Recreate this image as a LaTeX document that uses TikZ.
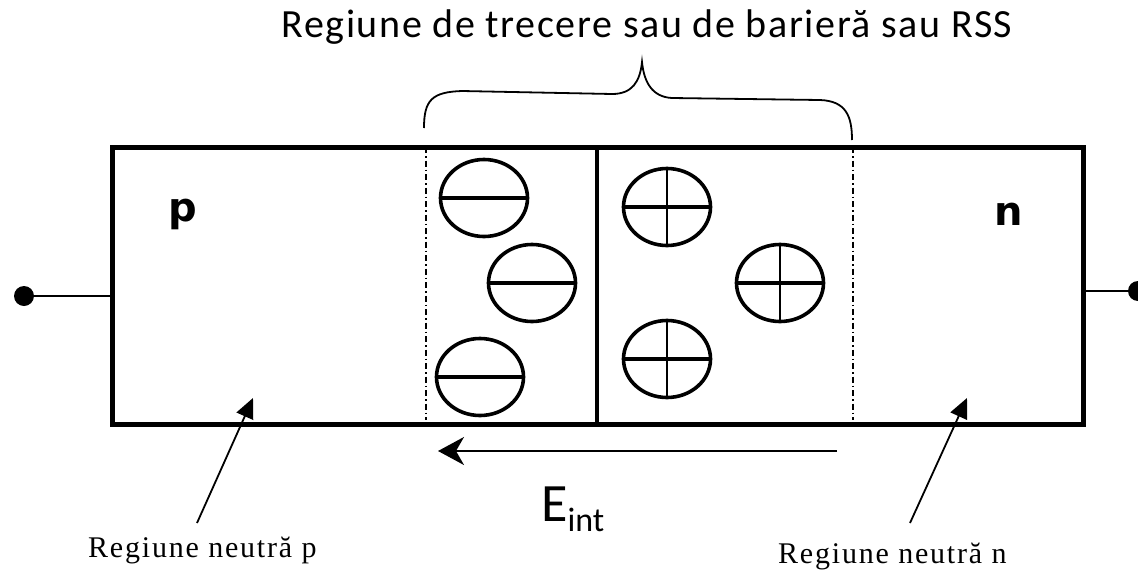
\documentclass[tikz,border=0pt]{standalone}
\usepackage{fontspec}
\setmainfont{Liberation Serif}
\newfontfamily\calib{Carlito}
\newfontfamily\calibsp[LetterSpace=4]{Carlito}
\newfontfamily\serifsp[LetterSpace=6]{Liberation Serif}
\newfontfamily\verd{DejaVu Sans}
\usetikzlibrary{shapes.geometric,arrows.meta}
\begin{document}
\begin{tikzpicture}[x=1pt,y=-1pt,
  ion/.style={draw, ellipse, line width=3.6pt, minimum width=87pt, minimum height=77pt, inner sep=0pt},
  bar/.style={line width=3.6pt},
  thinbar/.style={line width=2.4pt},
  dashdotline/.style={line width=1.6pt, dash pattern=on 6pt off 3pt on 1.5pt off 3pt},
  ptr/.style={line width=1.8pt, -{Triangle[length=20pt,width=18pt]}},
  lbl/.style={font=\serifsp\fontsize{30}{32}\selectfont, inner sep=0pt, anchor=base west},
]
\useasboundingbox (0,0) rectangle (1138,576);
% main box
\node[draw, line width=4.5pt, minimum width=971pt, minimum height=277pt, anchor=north west, inner sep=0pt] (box) at (110,145) {};
% junction line
\coordinate (jt) at (597,145);
\coordinate (jb) at (597,422);
\draw[line width=4pt] (jt) -- (jb);
% depletion limits
\coordinate (lt) at (426,147);
\coordinate (lb) at (426,420);
\coordinate (rt) at (853,147);
\coordinate (rb) at (853,420);
\draw[dashdotline] (lt) -- (lb);
\draw[dashdotline] (rt) -- (rb);
% terminals
\node[circle, fill, minimum size=20pt, inner sep=0pt] (tl) at (24,296) {};
\draw[line width=2pt] (tl.center) -- (tl -| box.west);
\node[circle, fill, minimum size=20pt, inner sep=0pt] (tr) at (1138,291) {};
\draw[line width=2pt] (tr.center) -- (tr -| box.east);
% negative ions
\node[ion] (m1) at (484,198) {};
\node[ion] (m2) at (532,283) {};
\node[ion] (m3) at (480,377) {};
\foreach \m in {m1,m2,m3}{\draw[bar] (\m.west) -- (\m.east);}
% positive ions
\node[ion] (p1) at (667,207) {};
\node[ion] (p2) at (780,283) {};
\node[ion] (p3) at (667,359) {};
\foreach \m in {p1,p2,p3}{\draw[bar] (\m.west) -- (\m.east); \draw[thinbar] (\m.north) -- (\m.south);}
% region letters
\node[font=\verd\bfseries\fontsize{40}{42}\selectfont, inner sep=0pt] (lp) at (183,214) {p};
\node[font=\verd\bfseries\fontsize{40}{42}\selectfont, inner sep=0pt] (ln) at (1009,214) {n};
% brace
\coordinate (bL) at (424,128);
\coordinate (bM) at (642,62);
\coordinate (bR) at (852,140);
\draw[line width=1.8pt] (bL) .. controls (424,100) and (432,92) .. (462,91) -- (612,94)
   .. controls (632,94) and (640,82) .. (bM)
   .. controls (644,82) and (652,97) .. (672,98) -- (820,100)
   .. controls (846,101) and (852,116) .. (bR);
% title
\node[font=\calibsp\fontsize{40}{44}\selectfont, inner sep=0pt] (title) at (647,27) {Regiune de trecere sau de barieră sau RSS};
% internal field
\coordinate (e1) at (837,451);
\coordinate (e2) at (438,451);
\draw[line width=1.8pt, -{Stealth[length=26pt,width=28pt,inset=8pt]}] (e1) -- (e2);
\node[font=\calib\fontsize{54}{56}\selectfont, inner sep=0pt, anchor=base west] (eint) at (541,521) {E\raisebox{-0.2em}{\fontsize{34}{36}\selectfont int}};
% neutral region labels
\node[lbl] (np) at (88,557) {Regiune neutră p};
\node[lbl] (nn) at (778,563) {Regiune neutră n};
\coordinate (ap) at (197,523);
\coordinate (an) at (910,523);
\draw[ptr] (ap) -- (253,398);
\draw[ptr] (an) -- (967,398);
\end{tikzpicture}
\end{document}
